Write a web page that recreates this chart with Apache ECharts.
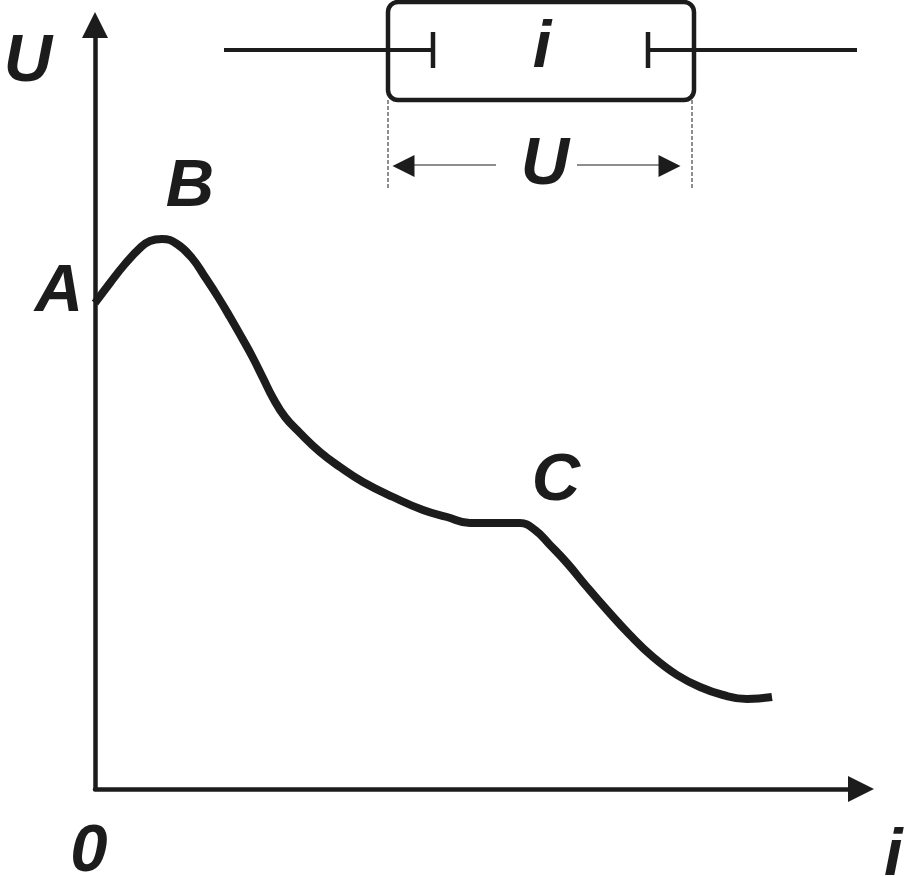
<!DOCTYPE html>
<html><head><meta charset="utf-8">
<style>html,body{margin:0;padding:0;background:#fff}#c{width:906px;height:877px}</style>
<script src="https://cdn.jsdelivr.net/npm/echarts@6/dist/echarts.min.js"></script>
</head><body><div id="c"></div>
<script>
// Characteristic curve (axis units)
const curveI = [0,15,30,45,55,67,82,97,110,123,135,147,158,168,178,190,205,225,245,268,298,328,352,375,402,425,440,455,472,492,512,535,558,582,605,628,652,677];
const curveU = [486,506,525,541,548,550,545,531,512,492,472,451,431,411,391,372,356,337,322,307,292,279,272,266,266,266,259,244,226,202,179,154,132,114,102,94,90,92];
// Schematic element at the top
const wireLeft = [[129,739],[338,739]];
const wireRight = [[553,739],[762,739]];
const plateLeft = [[338,757],[338,721]];
const plateRight = [[553,757],[553,721]];
const bodyCorners = [[293,787],[599,689]];
const dimLeft = [[293,689],[293,599]];
const dimRight = [[597,689],[597,599]];
const shaftLeft = [[318,624],[401,624]];
const shaftRight = [[482,624],[565,624]];
const arrowLeft = [308.5,623];
const arrowRight = [574.5,623];
// Text labels: name, x, y
const labelNames = ['A','B','C','i','U'];
const labelX = [-36,95,461,447,450];
const labelY = [496,601,307,740,623];
const ink = '#1c1c1c';
const font = '"Liberation Sans", Arial, sans-serif';

function seg(data, width, type) {
  return {type:'line', data:data, symbol:'none', silent:true, clip:false, smooth:false,
    lineStyle:{color:ink, width:width, type:type||'solid', opacity:1}};
}
const series = [
  {type:'line', name:'U(i)', data:curveI.map((x,k)=>[x,curveU[k]]), symbol:'none', smooth:0.45, clip:false,
    lineStyle:{color:ink, width:8, cap:'butt', join:'round'}},
  seg(wireLeft,4), seg(wireRight,4), seg(plateLeft,4.5), seg(plateRight,4.5),
  seg(dimLeft,1,[4,2]), seg(dimRight,1,[4,2]), seg(shaftLeft,1), seg(shaftRight,1),
  {type:'custom', silent:true, clip:false, data:[bodyCorners.flat()],
    renderItem:function(p,api){
      const a=api.coord([api.value(0),api.value(1)]), b=api.coord([api.value(2),api.value(3)]);
      return {type:'rect', shape:{x:a[0],y:a[1],width:b[0]-a[0],height:b[1]-a[1],r:10},
        style:{fill:'none',stroke:ink,lineWidth:4.5}};
    }},
  {type:'scatter', silent:true, clip:false, symbol:'triangle', symbolSize:[22,22], symbolRotate:90,
    itemStyle:{color:ink, opacity:1}, data:[arrowLeft]},
  {type:'scatter', silent:true, clip:false, symbol:'triangle', symbolSize:[22,22], symbolRotate:-90,
    itemStyle:{color:ink, opacity:1}, data:[arrowRight]},
  {type:'scatter', silent:true, clip:false, symbolSize:0, itemStyle:{opacity:1},
    data:labelNames.map((n,k)=>({name:n,value:[labelX[k],labelY[k]]})),
    label:{show:true, position:'inside', formatter:'{b}', color:ink, opacity:1, fontFamily:font,
      fontWeight:'bold', fontStyle:'italic', fontSize:67}}
];
const axisLine = {show:true, onZero:false, symbol:['none','triangle'], symbolSize:[26,26],
  lineStyle:{color:ink, width:4.5}};
const nameStyle = {color:ink, fontFamily:font, fontWeight:'bold', fontStyle:'italic', fontSize:67};
const chart = echarts.init(document.getElementById('c'), null, {renderer:'canvas'});
chart.setOption({
  animation:false,
  backgroundColor:'#fff',
  grid:{left:95, top:25, width:766, height:764, containLabel:false, outerBoundsMode:'none'},
  xAxis:{type:'value', min:0, max:766, axisLine:axisLine, axisTick:{show:false}, splitLine:{show:false},
    axisLabel:{show:true, customValues:[0], formatter:'0', margin:30, padding:[0,12,0,0],
      color:ink, fontFamily:font, fontWeight:'bold', fontStyle:'italic', fontSize:67},
    name:'i', nameLocation:'end', nameGap:23, nameMoveOverlap:false,
    nameTextStyle:Object.assign({},nameStyle,{align:'left',verticalAlign:'top',padding:[34,0,0,0]})},
  yAxis:{type:'value', min:0, max:764, axisLine:axisLine, axisTick:{show:false}, splitLine:{show:false},
    axisLabel:{show:false},
    name:'U', nameLocation:'end', nameGap:-38, nameMoveOverlap:false,
    nameTextStyle:Object.assign({},nameStyle,{align:'center',verticalAlign:'middle',padding:[0,134,0,0]})},
  tooltip:{show:false},
  series:series
});
</script></body></html>
